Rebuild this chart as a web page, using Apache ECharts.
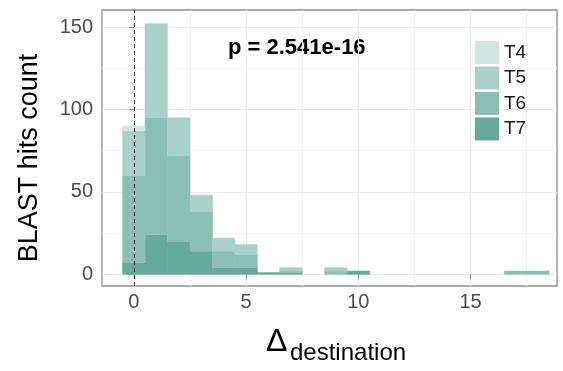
<!DOCTYPE html>
<html>
<head>
<meta charset="utf-8">
<script src="https://cdn.jsdelivr.net/npm/echarts@6/dist/echarts.min.js"></script>
<style>
  html, body { margin: 0; padding: 0; background: #fff; }
  #chart { width: 563px; height: 371px; }
</style>
</head>
<body>
<div id="chart"></div>
<script>
// bin centres (binwidth 1) and stacked counts per group
const bins = [0, 1, 2, 3, 4, 5, 6, 7, 9, 10, 17, 18];
const t4 = [3, 0, 0, 0, 0, 0, 0, 0, 0, 0, 0, 0];
const t5 = [27, 57, 23, 10, 8, 6, 0, 2, 2, 0, 0, 0];
const t6 = [53, 71, 52, 24, 10, 8, 0, 1, 2, 0, 2, 2];
const t7 = [7, 24, 20, 14, 4, 4, 1, 1, 0, 2, 0, 0];

const groups = ['T4', 'T5', 'T6', 'T7'];
const xTicks = [0, 5, 10, 15];
const xMinor = [2.5, 7.5, 12.5, 17.5];
const yTicks = [0, 50, 100, 150];
const yMinor = [25, 75, 125];

const COLORS = {
  T4: '#d0e7e3',
  T5: '#a9d0c9',
  T6: '#8bbfb6',
  T7: '#66a99d',
};

const FONT = '"Liberation Sans", Arial, sans-serif';

// stack order bottom -> top: T7, T6, T5, T4
const stackOrder = [['T7', t7], ['T6', t6], ['T5', t5], ['T4', t4]];
const base = bins.map(() => 0);
const stacked = {};
stackOrder.forEach(([name, vals]) => {
  stacked[name] = [];
  vals.forEach((v, i) => {
    if (v > 0) stacked[name].push([bins[i], base[i], base[i] + v]);
    base[i] += v;
  });
});

function renderBin(params, api) {
  const x = api.value(0);
  const p0 = api.coord([x - 0.5, api.value(1)]);
  const p1 = api.coord([x + 0.5, api.value(2)]);
  const c = api.visual('color');
  return {
    type: 'rect',
    shape: { x: p0[0], y: p1[1], width: p1[0] - p0[0], height: p0[1] - p1[1] },
    style: { fill: c, stroke: c, lineWidth: 0.6 },
  };
}

const gridLine = (key, v, color) => ({ [key]: v, lineStyle: { color, type: 'solid', width: 1 } });
const gridLines = [
  ...xMinor.map((v) => gridLine('xAxis', v, '#f4f4f4')),
  ...yMinor.map((v) => gridLine('yAxis', v, '#f4f4f4')),
  ...xTicks.map((v) => gridLine('xAxis', v, '#ebebeb')),
  ...yTicks.map((v) => gridLine('yAxis', v, '#ebebeb')),
];

const series = [
  {
    name: 'grid',
    type: 'line',
    data: [],
    z: 0,
    markLine: {
      silent: true,
      z: 0,
      symbol: 'none',
      label: { show: false },
      emphasis: { disabled: true },
      data: gridLines,
    },
  },
];

stackOrder.forEach(([name]) => {
  series.push({
    name,
    type: 'custom',
    renderItem: renderBin,
    data: stacked[name],
    itemStyle: { color: COLORS[name] },
    encode: { x: 0, y: [1, 2] },
    z: 3,
  });
});

// dashed reference line at 0
series.push({
  name: 'vline',
  type: 'line',
  data: [],
  z: 6,
  markLine: {
    silent: true,
    z: 6,
    symbol: 'none',
    label: { show: false },
    lineStyle: { type: [4, 3], color: '#333', width: 1.1 },
    data: [{ xAxis: 0 }],
  },
});

const chart = echarts.init(document.getElementById('chart'), null, { renderer: 'canvas' });

chart.setOption({
  animation: false,
  backgroundColor: '#fff',
  textStyle: { fontFamily: FONT },
  grid: {
    left: 102,
    right: 6,
    top: 10,
    bottom: 85,
    show: true,
    backgroundColor: '#fff',
    borderColor: '#8f8f8f',
    borderWidth: 1.3,
  },
  legend: {
    data: groups,
    orient: 'vertical',
    left: 470,
    top: 36,
    icon: 'rect',
    itemWidth: 24,
    itemHeight: 23,
    itemGap: 2.5,
    selectedMode: false,
    textStyle: { fontSize: 19, color: '#1a1a1a', fontFamily: FONT },
  },
  xAxis: {
    type: 'value',
    min: -1.42,
    max: 18.85,
    splitLine: { show: false },
    axisLine: { show: false },
    axisTick: { show: true, customValues: xTicks, length: 5, lineStyle: { color: '#8f8f8f', width: 1.2 } },
    axisLabel: { customValues: xTicks, fontSize: 20, color: '#4d4d4d', margin: 6, fontFamily: FONT },
  },
  yAxis: {
    type: 'value',
    min: -7.1,
    max: 160.4,
    splitLine: { show: false },
    axisLine: { show: false },
    axisTick: { show: true, customValues: yTicks, length: 5, lineStyle: { color: '#8f8f8f', width: 1.2 } },
    axisLabel: { customValues: yTicks, fontSize: 20, color: '#4d4d4d', margin: 9, fontFamily: FONT },
  },
  graphic: [
    {
      type: 'text',
      left: 228,
      top: 37,
      style: { text: 'p = 2.541e-16', font: 'bold 22px ' + FONT, fill: '#000' },
    },
    {
      type: 'text',
      x: 30,
      y: 158,
      rotation: Math.PI / 2,
      style: {
        text: 'BLAST hits count',
        font: '27px ' + FONT,
        fill: '#000',
        align: 'center',
        verticalAlign: 'middle',
      },
    },
    {
      type: 'text',
      left: 266,
      top: 326,
      style: { text: 'Δ', font: '32px ' + FONT, fill: '#000' },
    },
    {
      type: 'text',
      left: 290,
      top: 341,
      style: { text: 'destination', font: '24px ' + FONT, fill: '#000' },
    },
  ],
  series,
});
</script>
</body>
</html>
